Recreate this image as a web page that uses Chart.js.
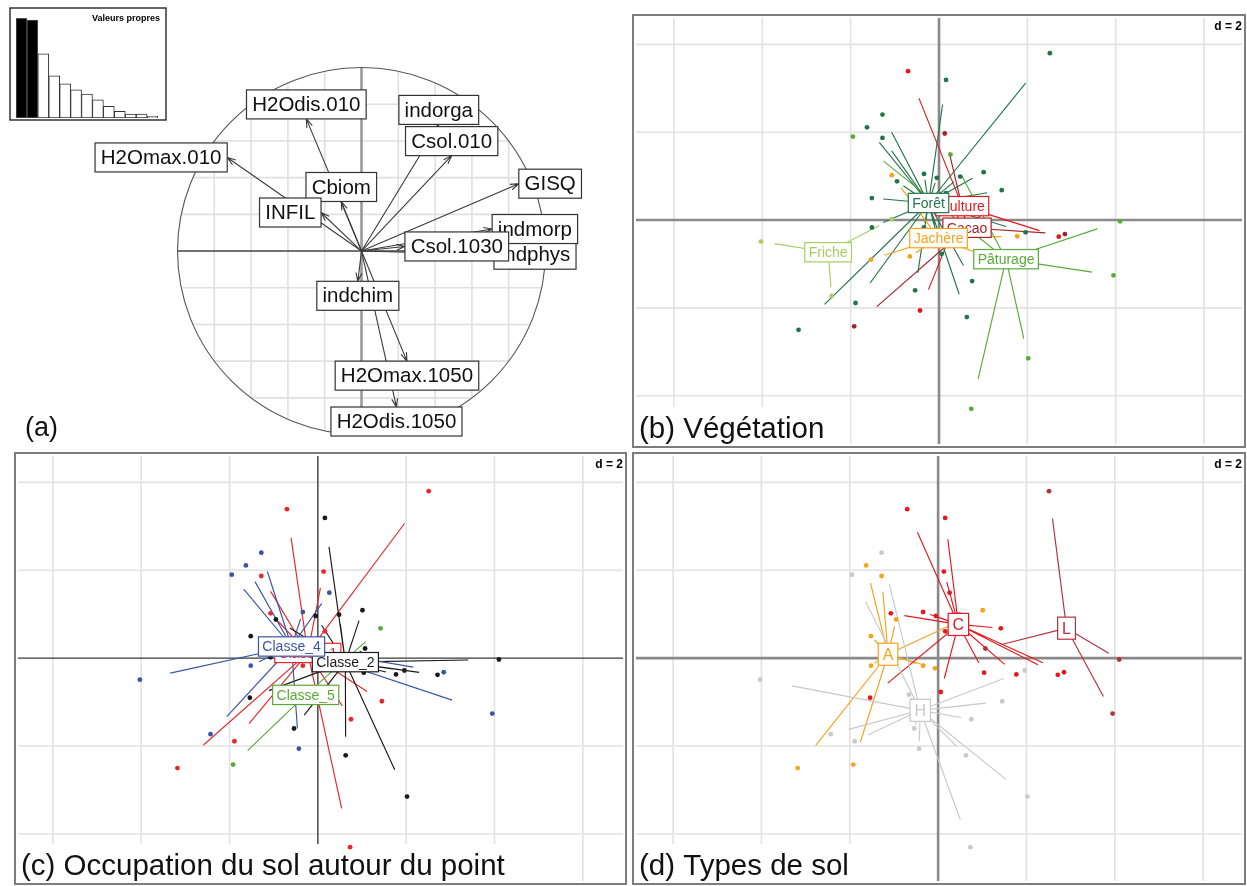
<!DOCTYPE html>
<html lang="fr">
<head>
<meta charset="UTF-8">
<title>ACP des indicateurs de qualité du sol</title>
<script src="https://cdn.jsdelivr.net/npm/chart.js"></script>
<style>
  body { margin: 0; background: #fff; width: 1247px; height: 886px; position: relative; overflow: hidden; }
  canvas { position: absolute; }
  #cercle { left: 0; top: 0; }
  #valeurs { left: 9px; top: 7px; }
  #vegetation { left: 632px; top: 14px; }
  #occupation { left: 14px; top: 452px; }
  #types { left: 632px; top: 452px; }
</style>
</head>
<body>
<canvas id="cercle" width="620" height="445"></canvas>
<canvas id="valeurs" width="158" height="114"></canvas>
<canvas id="vegetation" width="614" height="434"></canvas>
<canvas id="occupation" width="613" height="433"></canvas>
<canvas id="types" width="614" height="433"></canvas>

<script>
// valeurs propres de l'ACP normée
const valeursPropres = [2.97, 2.92, 1.91, 1.26, 1.02, 0.84, 0.71, 0.54, 0.35, 0.20, 0.12, 0.12, 0.05];
const nbAxes = 2;

// corrélations des variables avec les axes 1 et 2
const variables = ['H2Omax.010', 'H2Odis.010', 'Cbiom', 'INFIL', 'indorga', 'Csol.010', 'GISQ',
                   'indphys', 'indmorp', 'Csol.1030', 'indchim', 'H2Omax.1050', 'H2Odis.1050'];
const corAxe1 = [-0.73, -0.30, -0.11, -0.22, 0.42, 0.49, 0.855, 0.72, 0.71, 0.236, -0.02, 0.247, 0.19];
const corAxe2 = [0.51, 0.72, 0.27, 0.21, 0.69, 0.52, 0.367, -0.02, 0.12, 0.025, -0.165, -0.60, -0.85];

// coordonnées des points d'observation sur les axes 1 et 2
const axe1 = [-0.70, 0.16, -1.28, -1.63, -1.95, -1.28, 0.13, -1.07, -0.95, -0.34,
              -0.05, 0.16, -1.52, -1.52, -0.34, -0.07, 0.06, -1.54, 0.75, -0.54,
              -2.43, -1.89, -0.43, 0.63, -3.18, -1.92, 2.51, 1.01, 1.42, 1.07,
              4.10, 1.04, 1.77, 1.96, 2.71, 2.85, 1.45, 3.95, -4.03, 2.02,
              0.73, -1.07, -0.66, 0.26, 0.48];
const axe2 = [3.39, 3.19, 2.40, 2.11, 1.90, 1.87, 1.97, 1.02, 0.88, 1.05,
              0.96, 0.61, 0.50, -0.17, -0.17, -0.23, -0.77, -0.90, -1.39, -1.60,
              -1.73, -1.89, -2.06, -2.21, -2.50, -2.42, 3.80, 1.09, 0.68, 0.22,
              -0.03, -0.33, -0.37, -0.28, -0.38, -0.32, -0.98, -1.26, -0.49, -3.15,
              -4.30, 0.02, -0.83, 1.49, 0.99];

const vegetation = ['Culture', 'Forêt', 'Forêt', 'Forêt', 'Pâturage', 'Forêt', 'Cacao', 'Jachère', 'Forêt', 'Forêt',
                    'Forêt', 'Forêt', 'Forêt', 'Forêt', 'Forêt', 'Forêt', 'Forêt', 'Jachère', 'Forêt', 'Forêt',
                    'Friche', 'Forêt', 'Culture', 'Forêt', 'Forêt', 'Cacao', 'Forêt', 'Forêt', 'Forêt', 'Cacao',
                    'Pâturage', 'Cacao', 'Jachère', 'Forêt', 'Culture', 'Cacao', 'Jachère', 'Pâturage', 'Friche', 'Pâturage',
                    'Pâturage', 'Friche', 'Jachère', 'Pâturage', 'Forêt'];
const occupation = ['Classe_1', 'Classe_2', 'Classe_4', 'Classe_4', 'Classe_4', 'Classe_1', 'Classe_1', 'Classe_1', 'Classe_2', 'Classe_4',
                    'Classe_2', 'Classe_1', 'Classe_2', 'Classe_4', 'Classe_1', 'Classe_2', 'Classe_5', 'Classe_2', 'Classe_1', 'Classe_2',
                    'Classe_4', 'Classe_1', 'Classe_4', 'Classe_2', 'Classe_1', 'Classe_5', 'Classe_1', 'Classe_2', 'Classe_5', 'Classe_2',
                    'Classe_2', 'Classe_2', 'Classe_2', 'Classe_2', 'Classe_2', 'Classe_4', 'Classe_1', 'Classe_4', 'Classe_4', 'Classe_2',
                    'Classe_1', 'Classe_2', 'Classe_5', 'Classe_4', 'Classe_2'];
const typeSol = ['C', 'C', 'H', 'A', 'H', 'A', 'C', 'C', 'A', 'C',
                 'C', 'C', 'A', 'A', 'A', 'A', 'C', 'C', 'H', 'H',
                 'H', 'H', 'H', 'H', 'A', 'A', 'L', 'A', 'C', 'L',
                 'L', 'C', 'C', 'H', 'C', 'C', 'H', 'L', 'H', 'H',
                 'H', 'A', 'H', 'C', 'C'];

const niveauxVeg = ['Cacao', 'Culture', 'Forêt', 'Friche', 'Jachère', 'Pâturage'];
const niveauxOcc = ['Classe_1', 'Classe_2', 'Classe_4', 'Classe_5'];
const niveauxSol = ['A', 'C', 'H', 'L'];

const couleursVeg = ['#a8212d', '#e4191e', '#24744a', '#a7cd62', '#f7a21b', '#58ab37'];
const couleursOcc = ['#e8262b', '#1a1a1a', '#3b55a5', '#58a935'];
const couleursSol = ['#f7a21b', '#e4191e', '#c9c9c9', '#b3313c'];

const POLICE = '"Liberation Sans", Arial, sans-serif';
Chart.defaults.font.family = POLICE;

// ---------- grille, axes, étoiles et étiquettes des classes ----------
const etoiles = {
  id: 'etoiles',
  beforeDatasetsDraw(chart, args, o) {
    const { ctx, chartArea: a, scales: { x, y } } = chart;
    const W = chart.width, H = chart.height;
    ctx.save();
    ctx.fillStyle = '#fff';
    ctx.fillRect(0, 0, W, H);

    ctx.strokeStyle = '#e2e2e2';
    ctx.lineWidth = 1.6;
    ctx.beginPath();
    for (let v = Math.ceil(x.min / o.d) * o.d; v <= x.max; v += o.d) {
      if (v === 0) continue;
      const px = x.getPixelForValue(v);
      ctx.moveTo(px, a.top); ctx.lineTo(px, a.bottom);
    }
    for (let v = Math.ceil(y.min / o.d) * o.d; v <= y.max; v += o.d) {
      if (v === 0) continue;
      const py = y.getPixelForValue(v);
      ctx.moveTo(a.left, py); ctx.lineTo(a.right, py);
    }
    ctx.stroke();

    ctx.strokeStyle = o.axe;
    ctx.lineWidth = o.axeLargeur;
    ctx.beginPath();
    const x0 = x.getPixelForValue(0), y0 = y.getPixelForValue(0);
    ctx.moveTo(x0, a.top); ctx.lineTo(x0, a.bottom);
    ctx.moveTo(a.left, y0); ctx.lineTo(a.right, y0);
    ctx.stroke();

    // cartouche "d = 2"
    ctx.font = 'bold 12px ' + POLICE;
    const td = 'd = ' + o.d;
    const wd = ctx.measureText(td).width;
    ctx.fillStyle = '#fff';
    ctx.fillRect(W - wd - 9, 0, wd + 9, 22);
    ctx.fillStyle = '#000';
    ctx.textAlign = 'right';
    ctx.textBaseline = 'alphabetic';
    ctx.fillText(td, W - 4, 16);

    // sous-titre en bas à gauche
    ctx.font = '29.5px ' + POLICE;
    const ws = ctx.measureText(o.titre).width;
    ctx.fillStyle = '#fff';
    ctx.fillRect(0, H - 41, ws + 20, 41);
    ctx.fillStyle = '#111';
    ctx.textAlign = 'left';
    ctx.fillText(o.titre, 7, H - 10);

    // étoiles : centre de gravité de chaque classe vers ses points
    chart.data.datasets.forEach(ds => {
      const pts = ds.data;
      if (!pts.length) return;
      const cx = pts.reduce((s, p) => s + p.x, 0) / pts.length;
      const cy = pts.reduce((s, p) => s + p.y, 0) / pts.length;
      ctx.strokeStyle = ds.borderColor;
      ctx.lineWidth = 1.15;
      ctx.beginPath();
      pts.forEach(p => {
        ctx.moveTo(x.getPixelForValue(cx), y.getPixelForValue(cy));
        ctx.lineTo(x.getPixelForValue(cx + o.cstar * (p.x - cx)),
                   y.getPixelForValue(cy + o.cstar * (p.y - cy)));
      });
      ctx.stroke();
    });
    ctx.restore();
  },
  afterDatasetsDraw(chart, args, o) {
    const { ctx, scales: { x, y } } = chart;
    ctx.save();
    ctx.font = o.taille + 'px ' + POLICE;
    ctx.textAlign = 'center';
    ctx.textBaseline = 'middle';
    chart.data.datasets.forEach(ds => {
      const pts = ds.data;
      if (!pts.length) return;
      const cx = pts.reduce((s, p) => s + p.x, 0) / pts.length;
      const cy = pts.reduce((s, p) => s + p.y, 0) / pts.length;
      const px = x.getPixelForValue(cx), py = y.getPixelForValue(cy);
      const w = ctx.measureText(' ' + ds.label + ' ').width;
      const h = o.taille * 1.38;
      ctx.fillStyle = '#fff';
      ctx.fillRect(px - w / 2, py - h / 2, w, h);
      ctx.strokeStyle = ds.borderColor;
      ctx.lineWidth = 1.2;
      ctx.strokeRect(px - w / 2, py - h / 2, w, h);
      ctx.fillStyle = ds.borderColor;
      ctx.fillText(ds.label, px, py + 1);
    });
    ctx.strokeStyle = '#7d7d7d';
    ctx.lineWidth = 2;
    ctx.strokeRect(1, 1, chart.width - 2, chart.height - 2);
    ctx.restore();
  }
};

function classes(facteur, niveaux, couleurs) {
  return niveaux.map((niv, k) => ({
    label: niv,
    data: axe1.map((v, i) => ({ x: v, y: axe2[i] })).filter((p, i) => facteur[i] === niv),
    backgroundColor: couleurs[k],
    borderColor: couleurs[k],
    pointRadius: 2.4,
    pointBorderWidth: 0
  }));
}

function panneau(id, datasets, lim, opts) {
  new Chart(document.getElementById(id), {
    type: 'scatter',
    data: { datasets },
    options: {
      responsive: false,
      animation: false,
      devicePixelRatio: 1,
      layout: { padding: 0 },
      scales: {
        x: { type: 'linear', display: false, min: lim[0], max: lim[1] },
        y: { type: 'linear', display: false, min: lim[2], max: lim[3] }
      },
      plugins: { legend: { display: false }, tooltip: { enabled: false }, etoiles: opts }
    },
    plugins: [etoiles]
  });
}

panneau('vegetation', classes(vegetation, niveauxVeg, couleursVeg), [-6.86, 6.86, -5.10, 4.60],
  { d: 2, cstar: 0.8, titre: '(b) Végétation', axe: '#8a8a8a', axeLargeur: 2.6, taille: 14 });
panneau('occupation', classes(occupation, niveauxOcc, couleursOcc), [-6.79, 6.91, -5.07, 4.60],
  { d: 2, cstar: 0.8, titre: '(c) Occupation du sol autour du point', axe: '#3a3a3a', axeLargeur: 1.4, taille: 14 });
panneau('types', classes(typeSol, niveauxSol, couleursSol), [-6.84, 6.88, -5.07, 4.60],
  { d: 2, cstar: 0.8, titre: '(d) Types de sol', axe: '#8a8a8a', axeLargeur: 2.6, taille: 16 });

// ---------- cercle des corrélations ----------
const cercle = {
  id: 'cercle',
  beforeDatasetsDraw(chart) {
    const { ctx, scales: { x, y } } = chart;
    ctx.save();
    ctx.strokeStyle = '#e0e0e0';
    ctx.lineWidth = 1.6;
    ctx.beginPath();
    for (let k = -4; k <= 4; k++) {
      if (k === 0) continue;
      const v = k * 0.2, e = Math.sqrt(1 - v * v);
      ctx.moveTo(x.getPixelForValue(v), y.getPixelForValue(-e));
      ctx.lineTo(x.getPixelForValue(v), y.getPixelForValue(e));
      ctx.moveTo(x.getPixelForValue(-e), y.getPixelForValue(v));
      ctx.lineTo(x.getPixelForValue(e), y.getPixelForValue(v));
    }
    ctx.stroke();

    const ox = x.getPixelForValue(0), oy = y.getPixelForValue(0);
    ctx.strokeStyle = '#9a9a9a';
    ctx.lineWidth = 2.6;
    ctx.beginPath();
    ctx.moveTo(ox, y.getPixelForValue(1)); ctx.lineTo(ox, y.getPixelForValue(-1));
    ctx.stroke();
    ctx.strokeStyle = '#444';
    ctx.lineWidth = 1.4;
    ctx.beginPath();
    ctx.moveTo(x.getPixelForValue(-1), oy); ctx.lineTo(x.getPixelForValue(1), oy);
    ctx.stroke();

    ctx.strokeStyle = '#555';
    ctx.lineWidth = 1.1;
    ctx.beginPath();
    ctx.ellipse(ox, oy, x.getPixelForValue(1) - ox, oy - y.getPixelForValue(1), 0, 0, 2 * Math.PI);
    ctx.stroke();
    ctx.restore();
  },
  afterDatasetsDraw(chart) {
    const { ctx, scales: { x, y } } = chart;
    const ox = x.getPixelForValue(0), oy = y.getPixelForValue(0);
    const pts = chart.data.datasets[0].data;
    ctx.save();
    // flèches
    ctx.strokeStyle = '#3a3a3a';
    ctx.lineWidth = 1.1;
    pts.forEach(p => {
      const px = x.getPixelForValue(p.x), py = y.getPixelForValue(p.y);
      const ang = Math.atan2(py - oy, px - ox);
      ctx.beginPath();
      ctx.moveTo(ox, oy); ctx.lineTo(px, py);
      ctx.moveTo(px - 9 * Math.cos(ang - 0.33), py - 9 * Math.sin(ang - 0.33));
      ctx.lineTo(px, py);
      ctx.lineTo(px - 9 * Math.cos(ang + 0.33), py - 9 * Math.sin(ang + 0.33));
      ctx.stroke();
    });
    // étiquettes placées à l'extérieur de la flèche
    ctx.font = '20.5px ' + POLICE;
    ctx.textAlign = 'center';
    ctx.textBaseline = 'middle';
    const h = 29;
    pts.forEach((p, i) => {
      const lab = variables[i];
      const w = ctx.measureText(' ' + lab + ' ').width;
      let cx = x.getPixelForValue(p.x), cy = y.getPixelForValue(p.y);
      if (p.x > p.y && p.x > -p.y) cx += w / 2;
      else if (p.x > p.y) cy += h / 2;
      else if (p.x <= -p.y) cx -= w / 2;
      else cy -= h / 2;
      ctx.fillStyle = '#fff';
      ctx.fillRect(cx - w / 2, cy - h / 2, w, h);
      ctx.strokeStyle = '#333';
      ctx.lineWidth = 1.2;
      ctx.strokeRect(cx - w / 2, cy - h / 2, w, h);
      ctx.fillStyle = '#111';
      ctx.fillText(lab, cx, cy + 1);
    });
    ctx.font = '27px ' + POLICE;
    ctx.textAlign = 'left';
    ctx.textBaseline = 'alphabetic';
    ctx.fillText('(a)', 25, 436);
    ctx.restore();
  }
};

new Chart(document.getElementById('cercle'), {
  type: 'scatter',
  data: {
    datasets: [{
      label: 'variables',
      data: corAxe1.map((v, i) => ({ x: v, y: corAxe2[i] })),
      pointRadius: 0
    }]
  },
  options: {
    responsive: false,
    animation: false,
    devicePixelRatio: 1,
    layout: { padding: 0 },
    scales: {
      x: { type: 'linear', display: false, min: -1.965, max: 1.405 },
      y: { type: 'linear', display: false, min: -1.057, max: 1.368 }
    },
    plugins: { legend: { display: false }, tooltip: { enabled: false } }
  },
  plugins: [cercle]
});

// ---------- diagramme des valeurs propres ----------
const cadreValeurs = {
  id: 'cadreValeurs',
  beforeDraw(chart) {
    const { ctx } = chart;
    ctx.save();
    ctx.fillStyle = '#fff';
    ctx.fillRect(0, 0, chart.width, chart.height);
    ctx.restore();
  },
  afterDraw(chart) {
    const { ctx } = chart;
    ctx.save();
    ctx.strokeStyle = '#333';
    ctx.lineWidth = 1.5;
    ctx.strokeRect(1, 1, chart.width - 2, chart.height - 2);
    ctx.font = 'bold 9px ' + POLICE;
    ctx.fillStyle = '#000';
    ctx.textAlign = 'right';
    ctx.fillText('Valeurs propres', chart.width - 7, 14);
    ctx.restore();
  }
};

new Chart(document.getElementById('valeurs'), {
  type: 'bar',
  data: {
    labels: valeursPropres.map((v, i) => String(i + 1)),
    datasets: [{
      data: valeursPropres,
      backgroundColor: valeursPropres.map((v, i) => i < nbAxes ? '#000' : '#fff'),
      borderColor: valeursPropres.map((v, i) => i < nbAxes ? '#555' : '#333'),
      borderWidth: 1,
      borderSkipped: false,
      categoryPercentage: 1,
      barPercentage: 1
    }]
  },
  options: {
    responsive: false,
    animation: false,
    devicePixelRatio: 1,
    layout: { padding: { left: 7, right: 9, top: 2, bottom: 3 } },
    scales: {
      x: { display: false },
      y: { display: false, min: 0, max: 3.25 }
    },
    plugins: { legend: { display: false }, tooltip: { enabled: false } }
  },
  plugins: [cadreValeurs]
});
</script>
</body>
</html>
